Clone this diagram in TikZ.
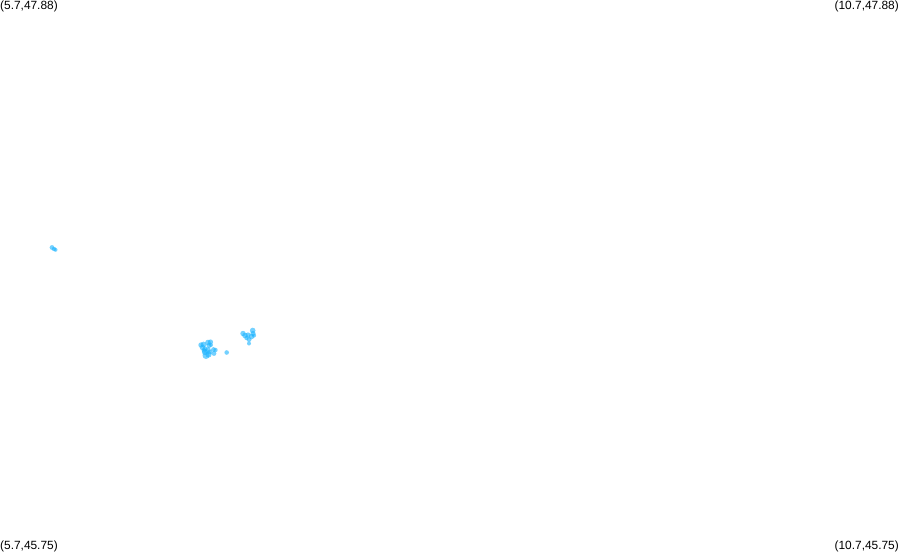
\documentclass[tikz,border=0pt]{standalone}
\usepackage{fontspec}
\setmainfont{Liberation Sans}
\definecolor{spot}{HTML}{1EB4FF}
\tikzset{
	corner/.style={inner sep=0pt,font=\fontsize{11.9}{12}\selectfont},
	blob/.style={fill=spot,opacity=0.62,draw=none}
}
\begin{document}
\begin{tikzpicture}[x=1pt,y=-1pt]
	\useasboundingbox (0,0) rectangle (899,552);
	
	%Corner labels
	\node[corner,anchor=north west] (nw) at (0,0.5) {(5.7,47.88)};
	\node[corner,anchor=north east] (ne) at (899,0.5) {(10.7,47.88)};
	\node[corner,anchor=south west] (sw) at (0,552.5) {(5.7,45.75)};
	\node[corner,anchor=south east] (se) at (899,552.5) {(10.7,45.75)};
	
	%Spots
	\foreach \x/\y/\r in {52/247.5/2.4, 54/249/2.2, 55.5/249.8/2,
		201/345/2.7, 203.5/344.5/2.9, 202.5/347.5/2.8, 205/349/2.6, 208/342.5/2.8, 210.5/342/2.6, 209/345.5/2.6, 211/345/2,
		205/352/3.2, 206/355.5/3.5, 208.5/354.5/3.1, 204/350.5/2.4, 208/350/2.8, 210/352/2.4, 213.5/349.5/2.4, 215.5/350/2.2, 214/353.5/2.4,
		226.7/352.5/2.3,
		243/333.5/2.7, 245/335.5/2.8, 246.5/338/2.2, 248/335/2.6, 252.7/330.5/2.8, 253/333.5/2.6, 251.5/336.5/2.8, 254/335.5/2.1, 249/339.5/2.5, 249/343.5/2} {
		\fill[blob] (\x,\y) circle (\r);
	}
	
\end{tikzpicture}
\end{document}
